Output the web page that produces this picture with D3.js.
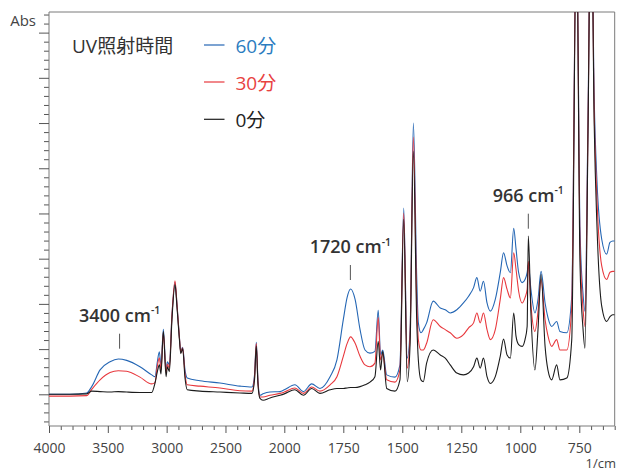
<!DOCTYPE html>
<html>
<head>
<meta charset="utf-8">
<script src="https://cdn.jsdelivr.net/npm/d3@7/dist/d3.min.js"></script>
<style>
  html, body { margin: 0; padding: 0; background: #fff; }
  svg { display: block; font-family: "Open Sans", "Noto Sans", "Noto Sans CJK JP", sans-serif; }
</style>
</head>
<body>
<svg id="chart" width="619" height="471"></svg>
<script>
// IR spectra of a sample after UV irradiation (0, 30 and 60 minutes)
const wavenumbers = [4000, 3822, 3680, 3637, 3566, 3481, 3411, 3340, 3227, 3127, 3099, 3079, 3062, 3048, 3028, 3005, 2994, 2977, 2955, 2929, 2912, 2892, 2880, 2864, 2844, 2825, 2717, 2547, 2377, 2275, 2253, 2238, 2224, 2207, 2181, 2122, 2036, 2000, 1955, 1919, 1884, 1849, 1806, 1777, 1750, 1734, 1719, 1700, 1679, 1658, 1637, 1616, 1602, 1592, 1583, 1566, 1531, 1510, 1494, 1479, 1467, 1453, 1439, 1432, 1421, 1411, 1397, 1369, 1339, 1318, 1297, 1269, 1241, 1219, 1198, 1184, 1170, 1156, 1141, 1127, 1106, 1085, 1071, 1056, 1042, 1028, 1018, 1007, 992, 980, 971, 966, 955, 938, 925, 912, 895, 883, 867, 846, 832, 803, 782, 762, 747, 734, 726, 713, 700, 687, 675, 655, 634, 620, 608, 600];

const abs60 = [0.000, 0.000, 0.003, 0.017, 0.054, 0.072, 0.078, 0.075, 0.061, 0.043, 0.039, 0.072, 0.094, 0.063, 0.144, 0.054, 0.072, 0.065, 0.174, 0.248, 0.198, 0.128, 0.095, 0.104, 0.054, 0.036, 0.030, 0.025, 0.018, 0.016, 0.043, 0.115, 0.032, -0.002, 0.001, 0.005, 0.006, 0.010, 0.021, 0.006, 0.023, 0.013, 0.039, 0.076, 0.165, 0.214, 0.233, 0.210, 0.143, 0.098, 0.091, 0.095, 0.186, 0.087, 0.098, 0.043, 0.038, 0.065, 0.412, 0.080, 0.143, 0.600, 0.261, 0.158, 0.136, 0.143, 0.158, 0.206, 0.191, 0.187, 0.180, 0.187, 0.202, 0.217, 0.236, 0.258, 0.228, 0.250, 0.202, 0.184, 0.210, 0.269, 0.313, 0.284, 0.269, 0.367, 0.321, 0.269, 0.247, 0.254, 0.269, 0.287, 0.232, 0.180, 0.210, 0.272, 0.202, 0.170, 0.150, 0.161, 0.139, 0.136, 0.217, 1.05, 0.365, 0.221, 0.184, 0.62, 1.15, 0.66, 0.47, 0.343, 0.310, 0.336, 0.339, 0.339];

const abs30 = [-0.004, -0.004, -0.003, 0.011, 0.032, 0.048, 0.052, 0.051, 0.038, 0.023, 0.026, 0.063, 0.081, 0.054, 0.136, 0.047, 0.067, 0.058, 0.174, 0.251, 0.198, 0.127, 0.093, 0.103, 0.045, 0.021, 0.018, 0.014, 0.008, 0.007, 0.038, 0.112, 0.027, -0.006, -0.006, -0.002, 0.002, 0.005, 0.014, 0.002, 0.016, 0.007, 0.021, 0.039, 0.084, 0.112, 0.127, 0.113, 0.084, 0.065, 0.061, 0.069, 0.170, 0.076, 0.090, 0.032, 0.027, 0.054, 0.401, 0.058, 0.132, 0.569, 0.210, 0.121, 0.098, 0.098, 0.113, 0.165, 0.150, 0.143, 0.136, 0.124, 0.132, 0.147, 0.158, 0.180, 0.158, 0.180, 0.143, 0.121, 0.143, 0.210, 0.258, 0.232, 0.213, 0.313, 0.276, 0.228, 0.202, 0.214, 0.232, 0.294, 0.199, 0.139, 0.183, 0.254, 0.165, 0.130, 0.106, 0.121, 0.098, 0.098, 0.195, 1.05, 0.332, 0.188, 0.150, 0.60, 1.15, 0.63, 0.43, 0.284, 0.254, 0.270, 0.272, 0.272];

const abs0 = [0.000, 0.000, 0.001, 0.007, 0.006, 0.005, 0.006, 0.005, 0.004, 0.004, 0.025, 0.050, 0.065, 0.045, 0.139, 0.039, 0.061, 0.050, 0.165, 0.243, 0.192, 0.123, 0.090, 0.101, 0.036, 0.010, 0.007, 0.005, 0.003, 0.002, 0.032, 0.107, 0.023, -0.009, -0.013, -0.008, -0.002, 0.001, 0.010, -0.002, 0.013, 0.002, 0.010, 0.013, 0.013, 0.014, 0.015, 0.015, 0.017, 0.021, 0.027, 0.039, 0.117, 0.054, 0.095, 0.013, 0.007, 0.032, 0.387, 0.028, 0.110, 0.538, 0.165, 0.076, 0.032, 0.028, 0.069, 0.098, 0.087, 0.080, 0.065, 0.047, 0.043, 0.047, 0.061, 0.080, 0.058, 0.080, 0.039, 0.024, 0.039, 0.084, 0.122, 0.087, 0.080, 0.180, 0.128, 0.110, 0.106, 0.121, 0.150, 0.350, 0.180, 0.054, 0.143, 0.265, 0.106, 0.054, 0.032, 0.065, 0.032, 0.036, 0.121, 1.05, 0.287, 0.143, 0.102, 0.58, 1.15, 0.60, 0.37, 0.195, 0.161, 0.172, 0.176, 0.176];

const seriesNames = ["60分", "30分", "0分"];
const seriesColors = ["#2466b4", "#e8383d", "#1c1c1c"];
const labelColors = ["#2b7cbf", "#e8423f", "#222222"];

const xMajorTicks = [4000, 3500, 3000, 2500, 2000, 1750, 1500, 1250, 1000, 750];
const peakLabels = [
  { wn: 3400, text: "3400 cm", y: 321.7 },
  { wn: 1720, text: "1720 cm", y: 253 },
  { wn: 966,  text: "966 cm",  y: 201.7 }
];

const svg = d3.select("#chart");
const plotLeft = 49, plotRight = 614.7, plotTop = 12, plotBottom = 426;

// Wavenumber axis is compressed above 2000 cm-1
const x = d3.scaleLinear().domain([4000, 2000, 600]).range([plotLeft, 284.3, plotRight]);
const y = d3.scaleLinear().domain([-0.0701, 0.8456]).range([plotBottom, plotTop]);

// minor ticks: 100 cm-1 steps above 2000, 50 cm-1 below
const xMinor = d3.range(4000, 2000, -100).concat(d3.range(2000, 599, -50))
  .filter(v => !xMajorTicks.includes(v));
const yMajor = d3.range(0, 0.81, 0.1);
const yMinor = d3.range(-0.06, 0.845, 0.02).filter(v => yMajor.every(m => Math.abs(m - v) > 1e-6));

const axisColor = "#7a7a7a";

// frame (top and right)
svg.append("path")
  .attr("d", `M${plotLeft},${plotTop}H${plotRight}V${plotBottom}`)
  .attr("fill", "none").attr("stroke", axisColor).attr("stroke-width", 1);

// y axis
const gy = svg.append("g").attr("transform", `translate(${plotLeft},0)`);
gy.call(d3.axisLeft(y).tickValues(yMinor).tickSize(5).tickFormat(""));
gy.select(".domain").remove();
const gy2 = svg.append("g").attr("transform", `translate(${plotLeft},0)`);
gy2.call(d3.axisLeft(y).tickValues(yMajor).tickSize(10).tickSizeOuter(0).tickFormat(""));
gy2.select(".domain").attr("d", `M0,${plotTop}V${plotBottom}`).attr("stroke", axisColor);
[gy, gy2].forEach(g => g.selectAll("line").attr("stroke", "#555"));

// x axis
const gx = svg.append("g").attr("transform", `translate(0,${plotBottom})`);
gx.call(d3.axisBottom(x).tickValues(xMinor).tickSize(4).tickFormat(""));
gx.select(".domain").remove();
const gx2 = svg.append("g").attr("transform", `translate(0,${plotBottom})`);
gx2.call(d3.axisBottom(x).tickValues(xMajorTicks).tickSize(7).tickSizeOuter(0).tickFormat(d3.format("d")));
gx2.select(".domain").attr("d", `M${plotLeft},0H${plotRight}`).attr("stroke", axisColor);
[gx, gx2].forEach(g => g.selectAll("line").attr("stroke", "#555"));
gx2.selectAll("text")
  .attr("y", 17).attr("dy", "0.71em")
  .attr("font-size", 14).attr("fill", "#444")
  .attr("font-family", "\"Open Sans\", sans-serif");

// axis titles
svg.append("text").attr("x", 36).attr("y", 26).attr("text-anchor", "end")
  .attr("font-size", 15).attr("fill", "#444").text("Abs");
svg.append("text").attr("x", 616).attr("y", 468).attr("text-anchor", "end")
  .attr("font-size", 13).attr("fill", "#444").text("1/cm");

// spectra
svg.append("clipPath").attr("id", "plot-clip")
  .append("rect").attr("x", plotLeft).attr("y", plotTop)
  .attr("width", plotRight - plotLeft).attr("height", plotBottom - plotTop);

const line = d3.line()
  .x((d, i) => x(wavenumbers[i]))
  .y(d => y(d))
  .curve(d3.curveMonotoneX);

const plot = svg.append("g").attr("clip-path", "url(#plot-clip)");
[abs60, abs30, abs0].forEach((vals, k) => {
  plot.append("path")
    .datum(vals)
    .attr("d", line)
    .attr("fill", "none")
    .attr("stroke", seriesColors[k])
    .attr("stroke-width", 1.1)
    .attr("stroke-linejoin", "round");
});

// peak annotations
peakLabels.forEach(p => {
  const px = x(p.wn);
  const t = svg.append("text")
    .attr("x", px).attr("y", p.y)
    .attr("text-anchor", "middle")
    .attr("font-size", 18).attr("font-weight", 600).attr("fill", "#333");
  t.append("tspan").text(p.text);
  t.append("tspan").attr("font-size", 10.5).attr("dy", -7.5).text("-1");
  svg.append("line")
    .attr("x1", px).attr("x2", px)
    .attr("y1", p.y + 12).attr("y2", p.y + 27)
    .attr("stroke", "#555").attr("stroke-width", 1);
});

// legend
svg.append("text").attr("x", 72).attr("y", 53).attr("font-size", 19)
  .attr("fill", "#333").text("UV照射時間");
const legendY = [45, 82, 119.3];
seriesNames.forEach((name, k) => {
  svg.append("line")
    .attr("x1", 204).attr("x2", 224.5)
    .attr("y1", legendY[k]).attr("y2", legendY[k])
    .attr("stroke", seriesColors[k]).attr("stroke-width", 1.2);
  svg.append("text")
    .attr("x", 235.5).attr("y", legendY[k] + 8)
    .attr("font-size", 19).attr("fill", labelColors[k])
    .text(name);
});
</script>
</body>
</html>
